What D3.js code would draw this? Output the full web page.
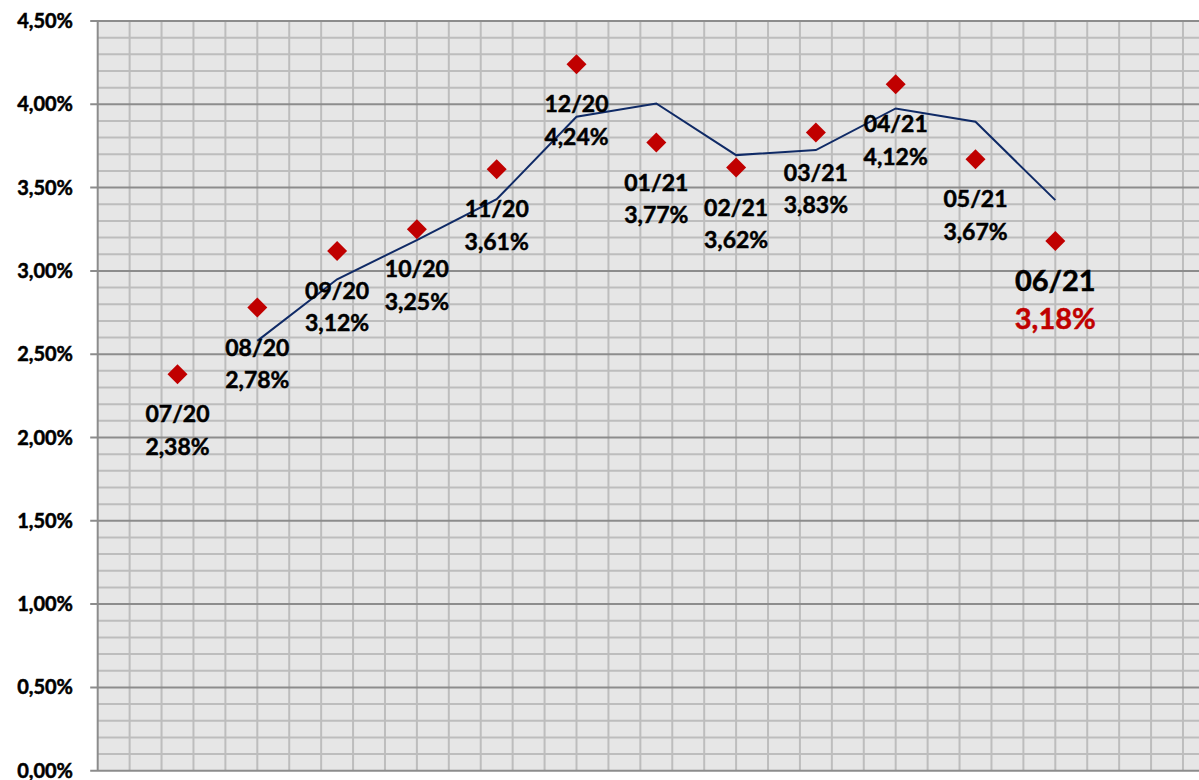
<!DOCTYPE html>
<html>
<head>
<meta charset="utf-8">
<script src="https://cdn.jsdelivr.net/npm/d3@7"></script>
<style>
  body { margin: 0; background: #fff; }
  svg { display: block; }
  text { font-family: Lato, "Open Sans", sans-serif; font-weight: bold; stroke-width: 0.5px; }
</style>
</head>
<body>
<div id="viz"></div>
<script>
(function() {
  var categories, values, avgValues, yTicks, width, height, left, top, bottom, unit, x, y, svg, plot, fmt, line, lastIdx;

  categories = ["07/20", "08/20", "09/20", "10/20", "11/20", "12/20", "01/21", "02/21", "03/21", "04/21", "05/21", "06/21"];

  values = [2.38, 2.78, 3.12, 3.25, 3.61, 4.24, 3.77, 3.62, 3.83, 4.12, 3.67, 3.18];

  // trend line, starts at 08/20
  avgValues = [null, 2.58, 2.95, 3.185, 3.43, 3.925, 4.005, 3.695, 3.725, 3.975, 3.895, 3.425];

  yTicks = [0, 0.5, 1, 1.5, 2, 2.5, 3, 3.5, 4, 4.5];

  width = 1199;
  height = 780;
  left = 97.7;
  top = 21;
  bottom = 770.7;
  unit = 79.8;

  x = d3.scaleLinear().domain([0, 14]).range([left, left + 14 * unit]);
  y = d3.scaleLinear().domain([0, 4.5]).range([bottom, top]);

  fmt = function(v) {
    return d3.format(".2f")(v).replace(".", ",") + "%";
  };

  svg = d3.select("#viz").append("svg").attr("width", width).attr("height", height);

  plot = svg.append("g");

  plot.append("rect")
    .attr("x", left).attr("y", top)
    .attr("width", x(14) - left).attr("height", bottom - top)
    .style("fill", "#e6e6e6");

  // vertical grid
  plot.selectAll("line.vgrid").data(d3.range(1, 36).map(function(i) { return i * 0.4; })).enter()
    .append("line").attr("class", "vgrid")
    .attr("x1", function(d) { return x(d); }).attr("x2", function(d) { return x(d); })
    .attr("y1", top).attr("y2", bottom)
    .style("stroke", "#bdbdbd").style("stroke-width", 2);

  // minor horizontal grid
  plot.selectAll("line.minor").data(d3.range(0, 45).filter(function(i) { return i % 5 !== 0; }).map(function(i) { return i / 10; })).enter()
    .append("line").attr("class", "minor")
    .attr("x1", left).attr("x2", width)
    .attr("y1", function(d) { return y(d); }).attr("y2", function(d) { return y(d); })
    .style("stroke", "#bdbdbd").style("stroke-width", 2);

  // major horizontal grid with ticks
  plot.selectAll("line.major").data(yTicks).enter()
    .append("line").attr("class", "major")
    .attr("x1", left - 7.5).attr("x2", width)
    .attr("y1", function(d) { return y(d); }).attr("y2", function(d) { return y(d); })
    .style("stroke", "#8c8c8c").style("stroke-width", 2);

  plot.append("line")
    .attr("x1", left).attr("x2", left).attr("y1", top).attr("y2", bottom)
    .style("stroke", "#8c8c8c").style("stroke-width", 2);

  svg.selectAll("text.ylab").data(yTicks).enter()
    .append("text").attr("class", "ylab")
    .attr("x", 73).attr("y", function(d) { return y(d) + 7; })
    .attr("text-anchor", "end")
    .style("font-size", "20px").style("fill", "#000").style("stroke", "#000")
    .text(fmt);

  line = d3.line()
    .defined(function(d) { return d !== null; })
    .x(function(d, i) { return x(i + 1); })
    .y(function(d) { return y(d); });

  svg.append("path").datum(avgValues)
    .attr("d", line)
    .style("fill", "none").style("stroke", "#0f2a66").style("stroke-width", 2);

  svg.selectAll("path.pt").data(values).enter()
    .append("path").attr("class", "pt")
    .attr("d", d3.symbol(d3.symbolSquare, 200))
    .attr("transform", function(d, i) { return "translate(" + x(i + 1) + "," + y(d) + ") rotate(45)"; })
    .style("fill", "#c00000");

  lastIdx = values.length - 1;

  svg.selectAll("text.cat").data(values).enter()
    .append("text").attr("class", "cat")
    .attr("x", function(d, i) { return x(i + 1); })
    .attr("y", function(d, i) { return y(d) + (i === lastIdx ? 50.5 : 48); })
    .attr("text-anchor", "middle")
    .style("font-size", function(d, i) { return i === lastIdx ? "29px" : "23px"; })
    .style("fill", "#000").style("stroke", "#000")
    .text(function(d, i) { return categories[i]; });

  svg.selectAll("text.val").data(values).enter()
    .append("text").attr("class", "val")
    .attr("x", function(d, i) { return x(i + 1); })
    .attr("y", function(d, i) { return y(d) + (i === lastIdx ? 88.5 : 80.5); })
    .attr("text-anchor", "middle")
    .style("font-size", function(d, i) { return i === lastIdx ? "29px" : "23px"; })
    .style("fill", function(d, i) { return i === lastIdx ? "#c00000" : "#000"; })
    .style("stroke", function(d, i) { return i === lastIdx ? "#c00000" : "#000"; })
    .text(fmt);

}).call(this);
</script>
</body>
</html>
